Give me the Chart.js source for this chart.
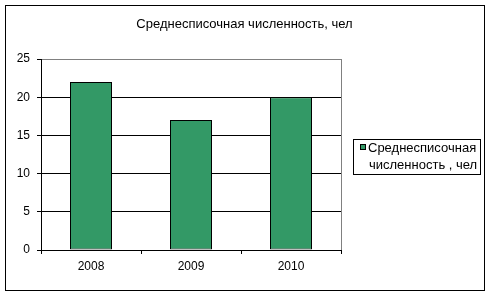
<!DOCTYPE html>
<html>
<head>
<meta charset="utf-8">
<script src="https://cdn.jsdelivr.net/npm/chart.js@4/dist/chart.umd.min.js"></script>
<style>
  html, body { margin: 0; padding: 0; background: #fff; }
  canvas { display: block; }
</style>
</head>
<body>
<canvas id="chart" width="489" height="294"></canvas>
<script>
const title = "Среднесписочная численность, чел"
const seriesName = ["Среднесписочная", "численность , чел"]
const years = ["2008", "2009", "2010"]
const headcount = [22, 17, 20]
const yMax = 25
const yStep = 5

const green = "#339966"
const family = "'Liberation Sans', Arial, sans-serif"
const font = { family, size: 12 }

// frame around the whole chart, title, plot border and the two-line legend box
const decor = {
  id: "decor",
  beforeDatasetsDraw(chart) {
    const { ctx, chartArea: a } = chart
    ctx.save()
    ctx.strokeStyle = "#808080"
    ctx.lineWidth = 1
    ctx.beginPath()
    ctx.moveTo(a.right + 0.5, a.top)
    ctx.lineTo(a.right + 0.5, a.bottom)
    ctx.stroke()
    ctx.restore()
  },
  afterDraw(chart) {
    const { ctx, chartArea: a } = chart
    ctx.save()
    ctx.strokeStyle = "#000"
    ctx.lineWidth = 1
    ctx.strokeRect(5.5, 5.5, 479, 285)

    ctx.fillStyle = "#000"
    ctx.font = `13px ${family}`
    ctx.textBaseline = "middle"
    ctx.textAlign = "center"
    ctx.fillText(title, chart.width / 2, 24)

    const lx = a.right + 12, ly = a.top + 80
    ctx.strokeRect(lx + 0.5, ly + 0.5, 127, 35)
    ctx.fillStyle = green
    ctx.fillRect(lx + 7, ly + 5, 6, 6)
    ctx.strokeRect(lx + 7.5, ly + 5.5, 5, 5)

    ctx.fillStyle = "#000"
    ctx.font = `13px ${family}`
    ctx.textAlign = "left"
    ctx.fillText(seriesName[0], lx + 15, ly + 9)
    ctx.fillText(seriesName[1], lx + 16, ly + 26.5)
    ctx.restore()
  }
}

new Chart(document.getElementById("chart"), {
  type: "bar",
  data: {
    labels: years,
    datasets: [{
      label: seriesName.join(" "),
      data: headcount,
      backgroundColor: green,
      borderColor: "#000",
      borderWidth: 1,
      borderSkipped: false,
      barPercentage: 0.42,
      categoryPercentage: 1
    }]
  },
  options: {
    responsive: false,
    animation: false,
    devicePixelRatio: 1,
    layout: { padding: { left: 0, right: 148, top: 59, bottom: 0 } },
    plugins: {
      legend: { display: false },
      tooltip: { enabled: false },
      title: { display: false }
    },
    scales: {
      x: {
        grid: { drawOnChartArea: false, tickLength: 4, tickColor: "#000", offset: true },
        border: { color: "#000" },
        ticks: { color: "#000", font, padding: 5 },
        afterFit: s => { s.height = 44 }
      },
      y: {
        min: 0,
        max: yMax,
        ticks: { stepSize: yStep, color: "#000", font, padding: 7 },
        grid: {
          tickLength: 4,
          tickColor: "#000",
          color: c => c.tick && c.tick.value === yMax ? "#808080" : "#000"
        },
        border: { color: "#000" },
        afterFit: s => { s.width = 41 }
      }
    }
  },
  plugins: [decor]
})
</script>
</body>
</html>
